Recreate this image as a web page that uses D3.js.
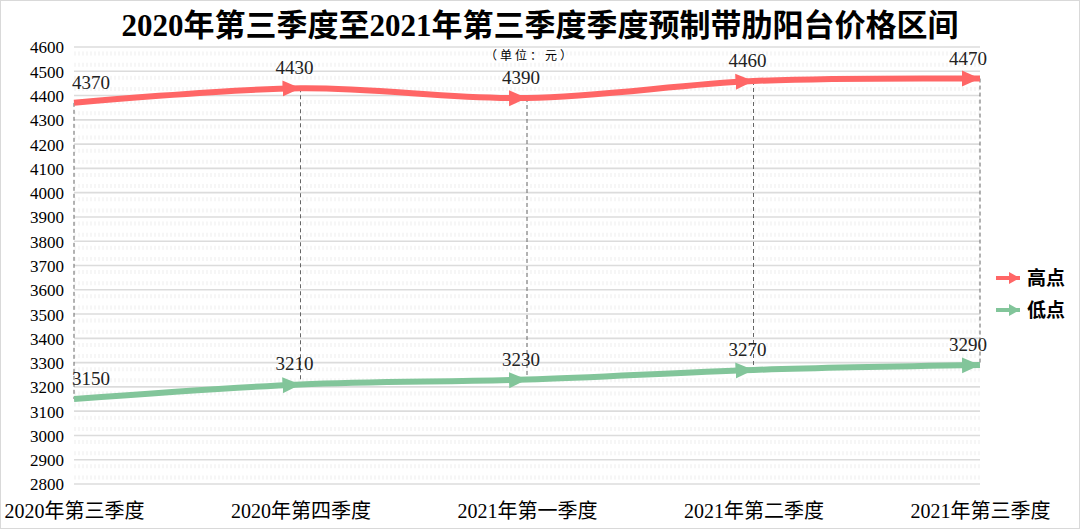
<!DOCTYPE html>
<html><head><meta charset="utf-8">
<script src="https://cdn.jsdelivr.net/npm/d3@7"></script>
<style>body{margin:0;background:#fff}svg{display:block}</style>
</head><body>
<script>
const categories = ["2020年第三季度","2020年第四季度","2021年第一季度","2021年第二季度","2021年第三季度"];
const highValues = [4370, 4430, 4390, 4460, 4470];
const lowValues = [3150, 3210, 3230, 3270, 3290];
const yTicks = [2800,2900,3000,3100,3200,3300,3400,3500,3600,3700,3800,3900,4000,4100,4200,4300,4400,4500,4600];
const seriesNames = ["高点","低点"];
const title = "2020年第三季度至2021年第三季度季度预制带肋阳台价格区间";
const unitText = "（单位：元）";

const W = 1080, H = 529;
const serif = "'Liberation Serif','Noto Sans CJK SC',serif";
const sans = "'Noto Sans CJK SC','Noto Sans',sans-serif";
const colors = ["#ff6666", "#82c59a"];

const svg = d3.select("body").append("svg").attr("width", W).attr("height", H);
svg.append("rect").attr("x",0.5).attr("y",0.5).attr("width",W-1).attr("height",H-1)
  .attr("fill","#fff").attr("stroke","#d9d9d9");

const x = d3.scalePoint().domain(categories).range([74, 980]);
const y = d3.scaleLinear().domain([2800, 4600]).range([484, 47]);

const defs = svg.append("defs");
colors.forEach((c,i)=>{
  defs.append("marker").attr("id","arr"+i).attr("markerUnits","userSpaceOnUse")
    .attr("viewBox","0 -9 19 18").attr("refX",18).attr("refY",0)
    .attr("markerWidth",19).attr("markerHeight",18).attr("orient","auto")
    .append("path").attr("d","M0,-8L18,0L0,8Z").attr("fill",c);
});

// minor hatch strips
const g = svg.append("g");
for (let i = 0; i < yTicks.length - 1; i++) {
  [0.27, 0.73].forEach(f => {
    const v = yTicks[i] + 100 * f;
    g.append("line").attr("x1", 74).attr("x2", 980).attr("y1", y(v)).attr("y2", y(v))
      .attr("stroke", "#f6f6f6").attr("stroke-width", 4).attr("stroke-dasharray", "2,2");
  });
}
// major gridlines
g.selectAll(".grid").data(yTicks).enter().append("line")
  .attr("x1",74).attr("x2",980).attr("y1",d=>y(d)).attr("y2",d=>y(d))
  .attr("stroke","#dcdcdc").attr("stroke-width",1.6);

// y tick labels
const yAxis = d3.axisLeft(y).tickValues(yTicks).tickSize(0).tickPadding(0).tickFormat(d3.format("d"));
const ya = svg.append("g").attr("transform","translate(64,0)").call(yAxis);
ya.select(".domain").remove();
ya.selectAll("text").attr("font-family",serif).attr("font-size",17).attr("fill","#000").attr("dy","0.35em");

// x labels
const xAxis = d3.axisBottom(x).tickSize(0).tickPadding(0);
const xa = svg.append("g").attr("transform","translate(0,502)").call(xAxis);
xa.select(".domain").remove();
xa.selectAll("text").attr("font-family",serif).attr("font-size",20).attr("fill","#000").attr("dy","0.8em");

// high-low dashed lines
svg.append("g").selectAll("line").data(categories).enter().append("line")
  .attr("x1",d=>x(d)).attr("x2",d=>x(d))
  .attr("y1",(d,i)=>y(highValues[i])).attr("y2",(d,i)=>y(lowValues[i]))
  .attr("stroke","#666").attr("stroke-width",1).attr("stroke-dasharray","4,3");

const line = d3.line().x((d,i)=>x(categories[i])).y(d=>y(d)).curve(d3.curveCatmullRom.alpha(0.5));
[highValues, lowValues].forEach((vals, si) => {
  svg.append("path").attr("d", line(vals)).attr("fill","none")
    .attr("stroke", colors[si]).attr("stroke-width", 6)
    .attr("marker-mid","url(#arr"+si+")").attr("marker-end","url(#arr"+si+")");
  svg.append("g").selectAll("text").data(vals).enter().append("text")
    .attr("x",(d,i)=> i===0 ? x(categories[i]) - 2 : (i===vals.length-1 ? x(categories[i]) + 7 : x(categories[i]) - 6))
    .attr("y",d=>y(d) - 14)
    .attr("text-anchor",(d,i)=> i===0 ? "start" : (i===vals.length-1 ? "end" : "middle"))
    .attr("font-family",serif).attr("font-size",19).attr("fill","#222")
    .text(d=>d);
});

// title
svg.append("text").attr("x",540).attr("y",36).attr("text-anchor","middle")
  .attr("font-family",serif).attr("font-weight","bold").attr("font-size",31).attr("fill","#000").text(title);
svg.append("text").attr("x",530).attr("y",60).attr("text-anchor","middle")
  .attr("font-family",serif).attr("font-size",12).attr("letter-spacing",3).attr("fill","#000").text(unitText);

// legend
seriesNames.forEach((n, i) => {
  const ly = 278 + i * 32;
  defs.append("marker").attr("id","leg"+i).attr("markerUnits","userSpaceOnUse")
    .attr("viewBox","0 -6 12 12").attr("refX",11).attr("refY",0)
    .attr("markerWidth",12).attr("markerHeight",12).attr("orient","auto")
    .append("path").attr("d","M0,-6L11,0L0,6Z").attr("fill",colors[i]);
  svg.append("line").attr("x1",996).attr("x2",1020).attr("y1",ly).attr("y2",ly)
    .attr("stroke",colors[i]).attr("stroke-width",4).attr("marker-end","url(#leg"+i+")");
  svg.append("text").attr("x",1027).attr("y",ly).attr("dy","0.36em")
    .attr("font-family",sans).attr("font-weight","bold").attr("font-size",19).attr("fill","#000").text(n);
});
</script>
</body></html>
